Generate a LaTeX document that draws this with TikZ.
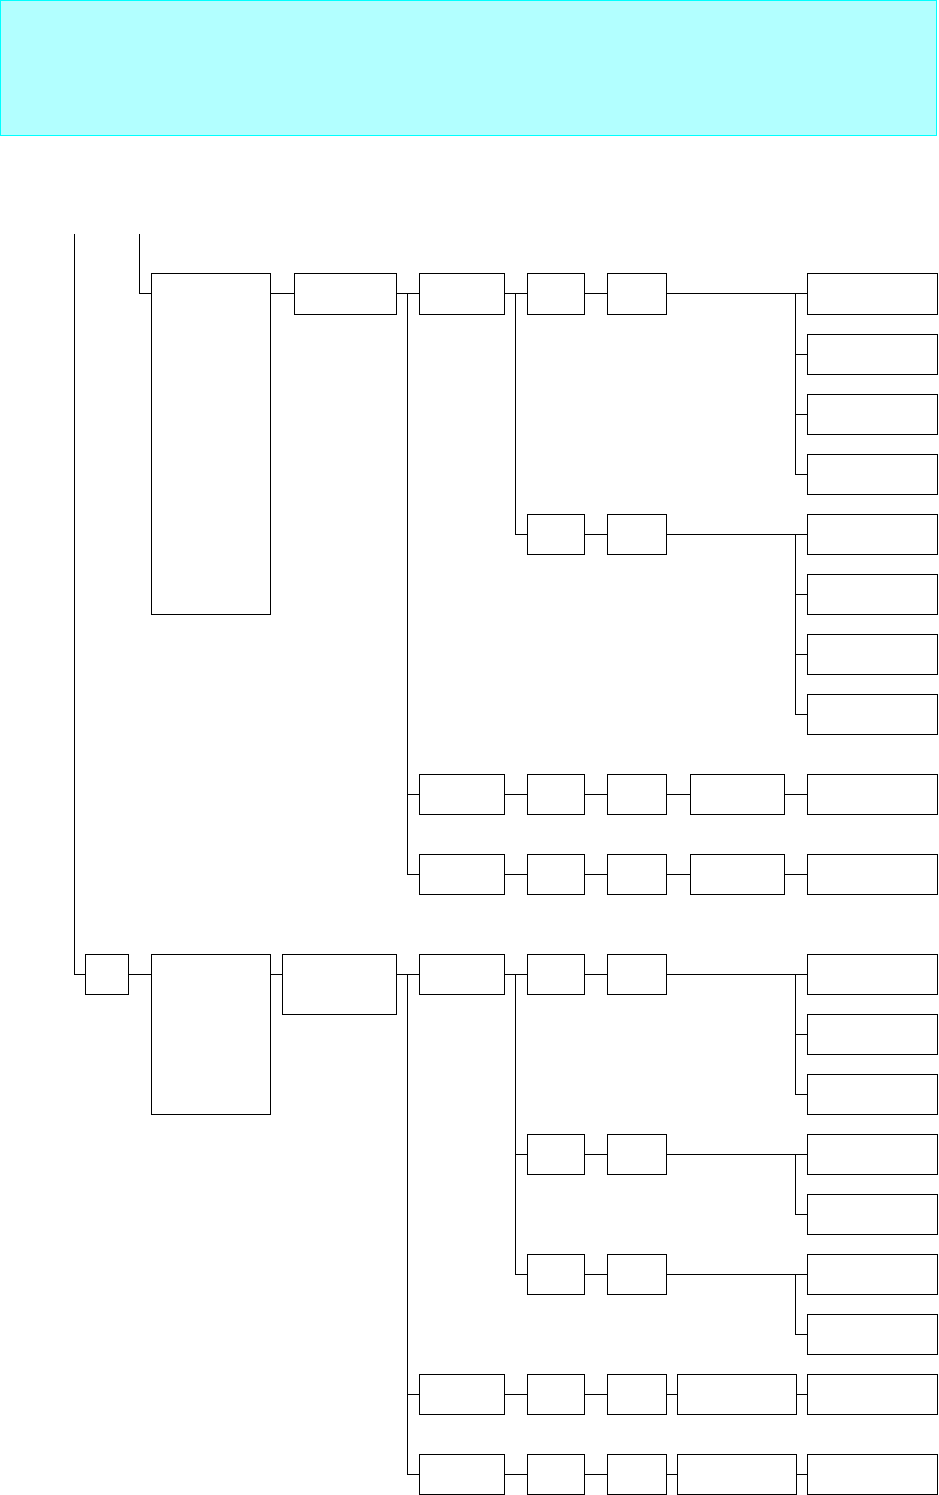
\documentclass[tikz,border=0pt]{standalone}
\usetikzlibrary{calc}
\definecolor{headfill}{HTML}{B2FFFF}
\definecolor{headline}{HTML}{00FFFF}

\begin{document}
\begin{tikzpicture}[
  x=1pt,y=-1pt,line width=1pt,
  box/.style={draw=black,line width=1pt,minimum height=40pt,
              inner sep=0pt,outer sep=0pt},
  head/.style={draw=headline,fill=headfill,line width=1pt,
               inner sep=0pt,outer sep=0pt,anchor=north west}
]
\useasboundingbox (0,0) rectangle (938,1495);

% Header band.
\node[head,minimum width=936pt,minimum height=135.5pt] (header) at (0.5,0.5) {};

\coordinate (rootL) at (74,234);
\coordinate (rootM) at (139,234);

% Upper branch.
\node[box,minimum width=119pt,minimum height=340pt] (bigA) at (210.5,444) {};
\node[box,minimum width=102pt] (a1) at (345,294) {};
\node[box,minimum width=85pt] (a2) at (461.5,294) {};
\node[box,minimum width=57pt] (a3) at (555.5,294) {};
\node[box,minimum width=59pt] (a4) at (636.5,294) {};
\node[box,minimum width=57pt] (a5) at (555.5,534) {};
\node[box,minimum width=59pt] (a6) at (636.5,534) {};

\draw (rootM) |- (bigA.west |- a1.west);
\draw (bigA.east |- a1.west) -- (a1.west);
\draw (a1) -- (a2) -- (a3) -- (a4);
\draw (a5) -- (a6);
\draw ($(a2.east)!.5!(a3.west)$) |- (a5.west);

\foreach \i/\y in {1/294,2/354,3/414,4/474} {
  \node[box,minimum width=130pt] (aR\i) at (872,\y) {};
  \draw ([xshift=-12pt]aR1.west) |- (aR\i.west);
}
\draw (a4) -- (aR1);

\foreach \i/\y in {1/534,2/594,3/654,4/714} {
  \node[box,minimum width=130pt] (aS\i) at (872,\y) {};
  \draw ([xshift=-12pt]aS1.west) |- (aS\i.west);
}
\draw (a6) -- (aS1);

\foreach \r/\y in {1/794,2/874} {
  \node[box,minimum width=85pt] (rowA\r-1) at (461.5,\y) {};
  \node[box,minimum width=57pt] (rowA\r-2) at (555.5,\y) {};
  \node[box,minimum width=59pt] (rowA\r-3) at (636.5,\y) {};
  \node[box,minimum width=94pt] (rowA\r-4) at (737,\y) {};
  \node[box,minimum width=130pt] (rowA\r-5) at (872,\y) {};
  \draw (rowA\r-1) -- (rowA\r-2) -- (rowA\r-3) -- (rowA\r-4) -- (rowA\r-5);
  \draw ($(a1.east)!.5!(a2.west)$) |- (rowA\r-1.west);
}

% Lower branch.
\node[box,minimum width=43pt] (b0) at (106.5,974) {};
\node[box,minimum width=119pt,minimum height=160pt] (bigB) at (210.5,1034) {};
\node[box,minimum width=114pt,minimum height=60pt] (b1) at (339,984) {};
\node[box,minimum width=85pt] (b2) at (461.5,974) {};
\node[box,minimum width=57pt] (b3) at (555.5,974) {};
\node[box,minimum width=59pt] (b4) at (636.5,974) {};
\node[box,minimum width=57pt] (b5) at (555.5,1154) {};
\node[box,minimum width=59pt] (b6) at (636.5,1154) {};
\node[box,minimum width=57pt] (b7) at (555.5,1274) {};
\node[box,minimum width=59pt] (b8) at (636.5,1274) {};

\draw (rootL) |- (b0.west);
\draw (b0.east) -- (b0.east -| bigB.west);
\draw (bigB.east |- b2.west) -- (b2.west -| b1.west);
\draw (b2.west -| b1.east) -- (b2.west);
\draw (b2) -- (b3) -- (b4);
\draw (b5) -- (b6);
\draw (b7) -- (b8);
\draw ($(b2.east)!.5!(b3.west)$) |- (b5.west);
\draw ($(b2.east)!.5!(b3.west)$) |- (b7.west);

\foreach \i/\y in {1/974,2/1034,3/1094} {
  \node[box,minimum width=130pt] (bR\i) at (872,\y) {};
  \draw ([xshift=-12pt]bR1.west) |- (bR\i.west);
}
\draw (b4) -- (bR1);

\foreach \i/\y in {1/1154,2/1214} {
  \node[box,minimum width=130pt] (bS\i) at (872,\y) {};
  \draw ([xshift=-12pt]bS1.west) |- (bS\i.west);
}
\draw (b6) -- (bS1);

\foreach \i/\y in {1/1274,2/1334} {
  \node[box,minimum width=130pt] (bT\i) at (872,\y) {};
  \draw ([xshift=-12pt]bT1.west) |- (bT\i.west);
}
\draw (b8) -- (bT1);

\foreach \r/\y in {1/1394,2/1474} {
  \node[box,minimum width=85pt] (rowB\r-1) at (461.5,\y) {};
  \node[box,minimum width=57pt] (rowB\r-2) at (555.5,\y) {};
  \node[box,minimum width=59pt] (rowB\r-3) at (636.5,\y) {};
  \node[box,minimum width=119pt] (rowB\r-4) at (736.5,\y) {};
  \node[box,minimum width=130pt] (rowB\r-5) at (872,\y) {};
  \draw (rowB\r-1) -- (rowB\r-2) -- (rowB\r-3) -- (rowB\r-4) -- (rowB\r-5);
  \draw ($(b2.west -| b1.east)!.5!(b2.west)$) |- (rowB\r-1.west);
}

\end{tikzpicture}
\end{document}
